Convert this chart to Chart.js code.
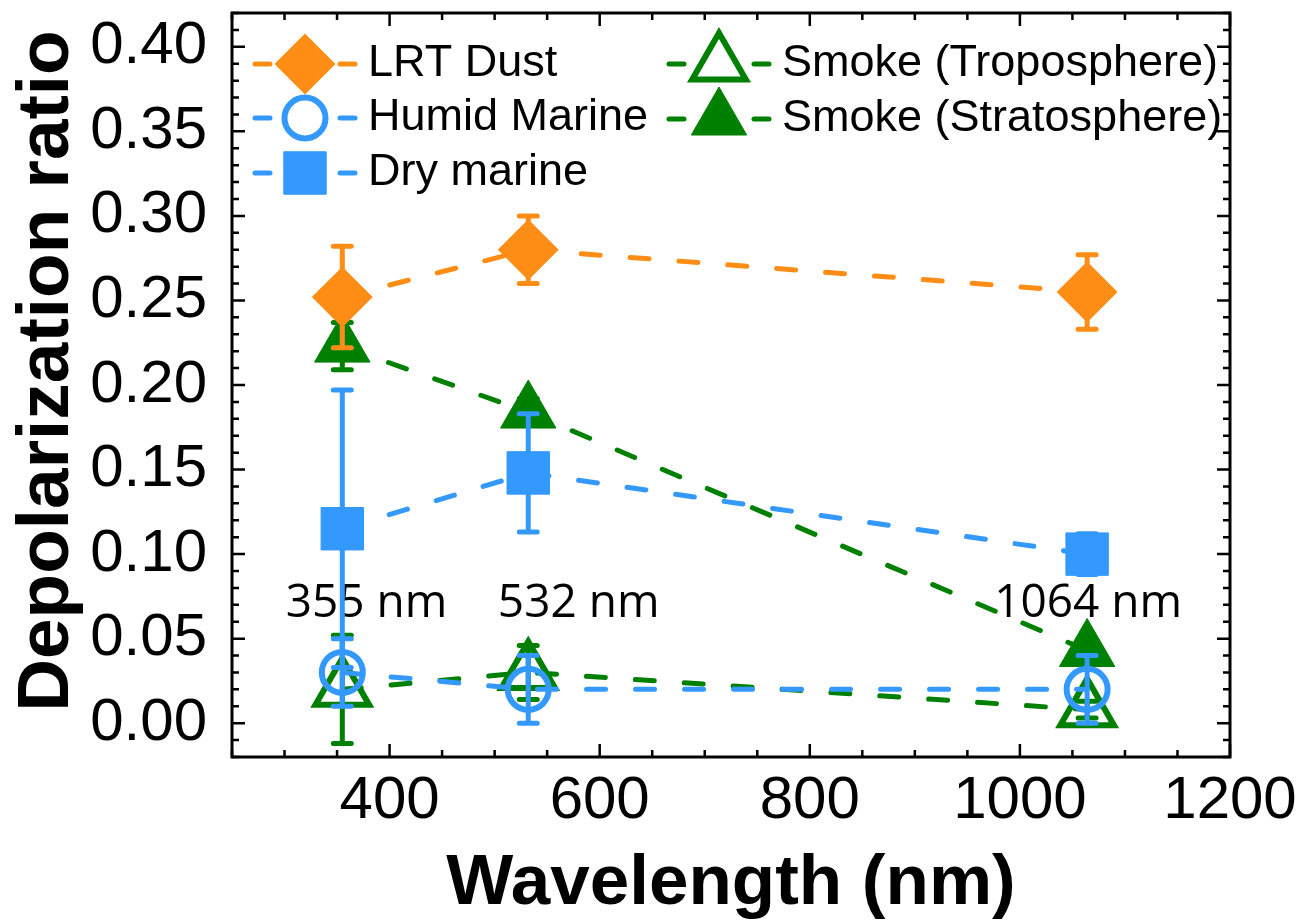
<!DOCTYPE html>
<html>
<head>
    <title>Depolarization ratio</title>
    <script src="https://cdn.jsdelivr.net/npm/chart.js"></script>
    <style>
        body { margin: 0; background: #fff; }
        #wrap { width: 1304px; height: 921px; }
    </style>
</head>
<body>
    <div id="wrap"><canvas id="depol-chart" width="1304" height="921"></canvas></div>

    <script>
        // values
        const wavelengths = [355, 532, 1064];
        const seriesNames = ['LRT Dust', 'Humid Marine', 'Dry marine', 'Smoke (Troposphere)', 'Smoke (Stratosphere)'];
        const lrtDust = [0.252, 0.280, 0.255];
        const lrtDustErr = [0.030, 0.020, 0.022];
        const humidMarine = [0.030, 0.020, 0.020];
        const humidMarineErr = [0.020, 0.020, 0.020];
        const dryMarine = [0.115, 0.148, 0.100];
        const dryMarineErr = [0.082, 0.035, 0.012];
        const smokeTropo = [0.020, 0.030, 0.008];
        const smokeTropoErr = [0.032, 0.016, 0.005];
        const smokeStrato = [0.223, 0.184, 0.043];
        const smokeStratoErr = [0.014, 0.008, 0.005];
        const xTicks = [400, 600, 800, 1000, 1200];
        const yTicks = [0, 0.05, 0.10, 0.15, 0.20, 0.25, 0.30, 0.35, 0.40];
        const lineLabels = ['355 nm', '532 nm', '1064 nm'];

        const ORANGE = '#FD8D14';
        const BLUE = '#3399FF';
        const GREEN = '#008000';
        const NONE = 'rgba(0,0,0,0)';

        function pts(vals) {
            return wavelengths.map((w, i) => ({x: w, y: vals[i]}));
        }

        function series(i, vals, errs, color, style, radius, fill, bw) {
            return {
                label: seriesNames[i],
                data: pts(vals),
                errors: errs,
                borderColor: color,
                borderWidth: 5,
                borderDash: [19, 30],
                borderCapStyle: 'round',
                fill: false,
                tension: 0,
                pointStyle: style,
                pointRadius: radius,
                pointHoverRadius: radius,
                pointBackgroundColor: fill,
                pointBorderColor: color,
                pointBorderWidth: bw
            };
        }

        // error bars, drawn under each dataset's own markers
        const errorBars = {
            id: 'errorBars',
            beforeDatasetDraw(chart, args) {
                const ds = chart.data.datasets[args.index];
                if (!ds.errors) return;
                const {ctx, scales: {x, y}} = chart;
                ctx.save();
                ctx.setLineDash([]);
                ctx.strokeStyle = ds.borderColor;
                ctx.lineWidth = 5;
                ctx.lineCap = 'round';
                ds.data.forEach((p, i) => {
                    const e = ds.errors[i];
                    const px = x.getPixelForValue(p.x);
                    const top = y.getPixelForValue(p.y + e);
                    const bot = y.getPixelForValue(p.y - e);
                    ctx.beginPath();
                    ctx.moveTo(px, top); ctx.lineTo(px, bot);
                    ctx.moveTo(px - 9, top); ctx.lineTo(px + 9, top);
                    ctx.moveTo(px - 9, bot); ctx.lineTo(px + 9, bot);
                    ctx.stroke();
                });
                ctx.restore();
            }
        };

        // "355 nm" etc, sits under the data
        const waveLabels = {
            id: 'waveLabels',
            beforeDatasetsDraw(chart, args, opts) {
                const {ctx, scales: {x, y}} = chart;
                ctx.save();
                ctx.font = '46px "Open Sans"';
                ctx.fillStyle = '#000';
                ctx.textAlign = 'center';
                ctx.textBaseline = 'middle';
                lineLabels.forEach((t, i) => {
                    const at = opts.at[i];
                    ctx.fillText(t, x.getPixelForValue(at[0]), y.getPixelForValue(at[1]));
                });
                ctx.restore();
            }
        };

        // box with inward ticks on all four sides
        const frame = {
            id: 'frame',
            afterDraw(chart, args, opts) {
                const {ctx, chartArea: a, scales: {x, y}} = chart;
                ctx.save();
                ctx.setLineDash([]);
                ctx.strokeStyle = '#000';
                ctx.lineWidth = 2.5;
                ctx.beginPath();
                const nx = Math.round((x.max - x.min) / opts.xMinor);
                for (let k = 0; k <= nx; k++) {
                    const v = x.min + k * opts.xMinor;
                    const px = x.getPixelForValue(v);
                    const len = (v % opts.xMajor === 0) ? 13 : 7;
                    ctx.moveTo(px, a.bottom); ctx.lineTo(px, a.bottom - len);
                    ctx.moveTo(px, a.top); ctx.lineTo(px, a.top + len);
                }
                const ny = Math.round((y.max - y.min) / opts.yMinor);
                for (let k = 0; k <= ny; k++) {
                    const v = y.min + k * opts.yMinor;
                    const py = y.getPixelForValue(v);
                    const len = (Math.round(v * 100) % 5 === 0) ? 13 : 7;
                    ctx.moveTo(a.left, py); ctx.lineTo(a.left + len, py);
                    ctx.moveTo(a.right, py); ctx.lineTo(a.right - len, py);
                }
                ctx.stroke();
                ctx.lineWidth = 3;
                ctx.strokeRect(a.left, a.top, a.right - a.left, a.bottom - a.top);
                ctx.restore();
            }
        };

        // y title sits a bit above the centre of the axis in the original
        const yTitle = {
            id: 'yTitle',
            afterDraw(chart, args, opts) {
                const ctx = chart.ctx;
                ctx.save();
                ctx.translate(opts.x, opts.y);
                ctx.rotate(-Math.PI / 2);
                ctx.font = 'bold 73px "Liberation Sans"';
                ctx.fillStyle = '#000';
                ctx.textAlign = 'center';
                ctx.textBaseline = 'middle';
                ctx.fillText(opts.text, 0, 0);
                ctx.restore();
            }
        };

        // two-column legend inside the plot
        const boxLegend = {
            id: 'boxLegend',
            afterDraw(chart, args, opts) {
                const ctx = chart.ctx;
                ctx.save();
                chart.data.datasets.forEach((ds, i) => {
                    const [cx, cy] = opts.slots[i];
                    ctx.setLineDash([]);
                    ctx.lineCap = 'round';
                    ctx.strokeStyle = ds.borderColor;
                    ctx.lineWidth = ds.borderWidth;
                    ctx.beginPath();
                    ctx.moveTo(cx - 50, cy); ctx.lineTo(cx - 35, cy);
                    ctx.moveTo(cx + 35, cy); ctx.lineTo(cx + 50, cy);
                    ctx.stroke();
                    ctx.fillStyle = ds.pointBackgroundColor;
                    ctx.strokeStyle = ds.pointBorderColor;
                    ctx.lineWidth = ds.pointBorderWidth;
                    ctx.lineCap = 'butt';
                    Chart.helpers.drawPoint(ctx, {
                        pointStyle: ds.pointStyle,
                        radius: ds.pointRadius,
                        borderWidth: ds.pointBorderWidth,
                        rotation: 0
                    }, cx, cy);
                    ctx.fillStyle = '#000';
                    ctx.font = '45px "Liberation Sans"';
                    ctx.textAlign = 'left';
                    ctx.textBaseline = 'middle';
                    ctx.fillText(ds.label, cx + 63, cy);
                });
                ctx.restore();
            }
        };

        const ctx = document.getElementById('depol-chart').getContext('2d');
        const chart = new Chart(ctx, {
            type: 'line',
            data: {
                datasets: [
                    series(0, lrtDust, lrtDustErr, ORANGE, 'rectRot', 29, ORANGE, 2),
                    series(1, humidMarine, humidMarineErr, BLUE, 'circle', 20.5, NONE, 6),
                    series(2, dryMarine, dryMarineErr, BLUE, 'rect', 30, BLUE, 1),
                    series(3, smokeTropo, smokeTropoErr, GREEN, 'triangle', 31, NONE, 6),
                    series(4, smokeStrato, smokeStratoErr, GREEN, 'triangle', 32, GREEN, 1)
                ]
            },
            options: {
                responsive: false,
                animation: false,
                layout: { autoPadding: false, padding: { top: 13, right: 74, left: 0, bottom: 0 } },
                plugins: {
                    legend: { display: false },
                    tooltip: { enabled: false },
                    waveLabels: { at: [[378, 0.0705], [580, 0.0705], [1065, 0.0705]] },
                    frame: { xMinor: 50, xMajor: 200, yMinor: 0.01 },
                    yTitle: { text: 'Depolarization ratio', x: 48, y: 371 },
                    boxLegend: { slots: [[305, 64], [305, 118], [305, 173], [719, 64], [719, 119]] }
                },
                scales: {
                    x: {
                        type: 'linear',
                        min: 250,
                        max: 1200,
                        afterBuildTicks: axis => { axis.ticks = xTicks.map(v => ({value: v})); },
                        afterFit: s => { s.height = 164; s.paddingLeft = 0; s.paddingRight = 0; },
                        grid: { display: false, drawTicks: false },
                        border: { display: false },
                        ticks: {
                            autoSkip: false,
                            maxRotation: 0,
                            padding: 8,
                            color: '#000',
                            font: { family: 'Liberation Sans', size: 60 },
                            callback: v => String(v)
                        },
                        title: {
                            display: true,
                            text: 'Wavelength (nm)',
                            color: '#000',
                            padding: { top: 0, bottom: -6 },
                            font: { family: 'Liberation Sans', size: 71, weight: 'bold' }
                        }
                    },
                    y: {
                        min: -0.02,
                        max: 0.42,
                        afterBuildTicks: axis => { axis.ticks = yTicks.map(v => ({value: v})); },
                        afterFit: s => { s.width = 232; s.paddingTop = 0; s.paddingBottom = 0; },
                        grid: { display: false, drawTicks: false },
                        border: { display: false },
                        ticks: {
                            autoSkip: false,
                            padding: 25,
                            color: '#000',
                            font: { family: 'Liberation Sans', size: 60 },
                            callback: v => v.toFixed(2)
                        },
                        title: { display: false }
                    }
                }
            },
            plugins: [errorBars, waveLabels, frame, yTitle, boxLegend]
        });
    </script>
</body>
</html>
